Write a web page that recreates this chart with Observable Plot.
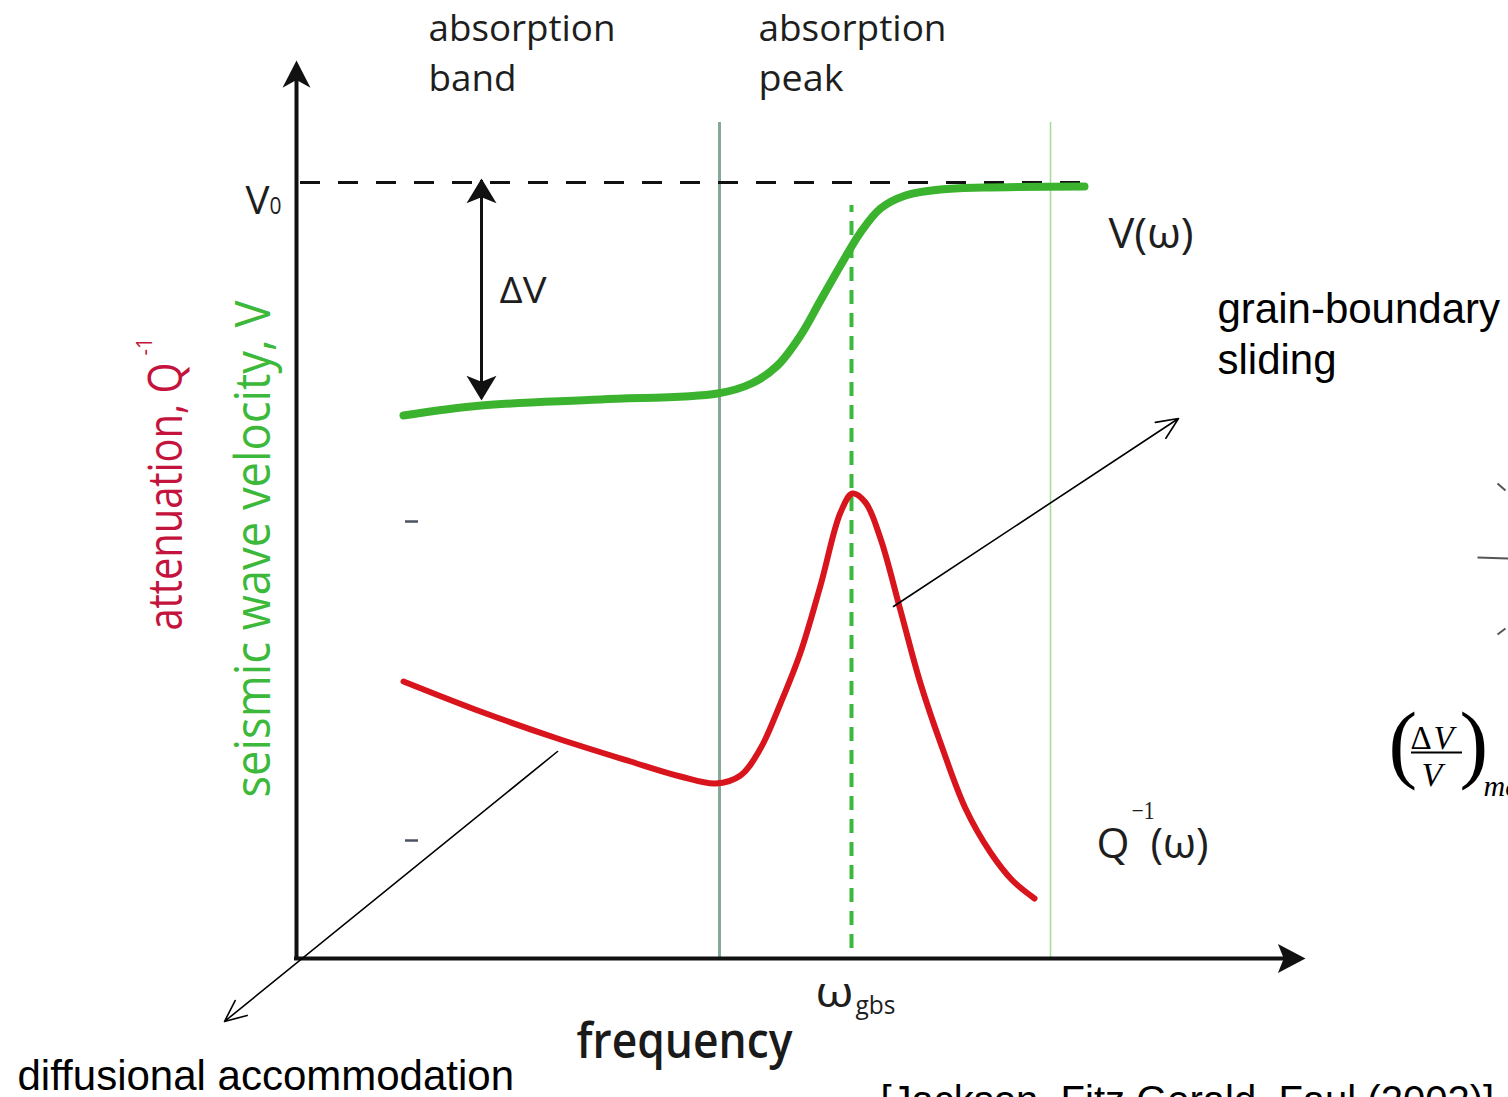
<!DOCTYPE html>
<html><head><meta charset="utf-8">
<script src="https://cdn.jsdelivr.net/npm/d3@7"></script>
<script src="https://cdn.jsdelivr.net/npm/@observablehq/plot@0.6"></script>
<style>html,body{margin:0;padding:0;background:#fff;overflow:hidden;} svg{display:block;}</style>
</head><body><div id="chart"></div>
<script>
// ---- schematic data (frequency in arbitrary units, origin at the axes corner) ----
const vFreq = [1.07, 1.85, 3.04, 4.21, 4.55, 4.81, 5.04, 5.24, 5.44, 5.64, 5.84, 6.09, 6.44, 6.87, 7.88];
const vVel  = [5.43, 5.53, 5.59, 5.65, 5.75, 5.93, 6.23, 6.58, 6.93, 7.26, 7.50, 7.63, 7.69, 7.71, 7.72];
const qFreq = [1.07, 1.84, 2.61, 3.34, 3.84, 4.19, 4.44, 4.64, 4.84, 5.04, 5.24, 5.44, 5.56, 5.69, 5.84, 6.04, 6.24, 6.46, 6.69, 6.94, 7.16, 7.38];
const qAtt  = [2.77, 2.47, 2.20, 1.97, 1.82, 1.75, 1.83, 2.10, 2.55, 3.06, 3.73, 4.46, 4.65, 4.56, 4.20, 3.48, 2.75, 2.10, 1.50, 1.06, 0.78, 0.60];
const V0 = 7.76;            // unrelaxed velocity level
const omegaGbs = 5.55;      // peak frequency
const bandEdge = 4.23;      // end of absorption band
const peakEdge = 7.54;      // end of absorption peak region
const regionTop = 8.36;
const vLow = 5.58;          // relaxed velocity at dV arrow
const dVfreq = 1.85;
const xAxisEnd = 10.09, yAxisEnd = 8.98;
const tickValues = [4.37, 1.18];
const pointers = [
  {x1: 5.97, y1: 3.52, x2: 8.82, y2: 5.40},   // grain-boundary sliding
  {x1: 2.61, y1: 2.07, x2: -0.72, y2: -0.63}  // diffusional accommodation
];
const edgeStrokes = [
  {x1: 11.81, y1: 4.01, x2: 12.12, y2: 4.00},
  {x1: 12.01, y1: 4.75, x2: 12.09, y2: 4.68},
  {x1: 12.01, y1: 3.24, x2: 12.09, y2: 3.30}
];

const vData = vFreq.map((f, i) => ({f, v: vVel[i]}));
const qData = qFreq.map((f, i) => ({f, q: qAtt[i]}));

// filled stealth-style arrowheads as custom dot symbols (tip at the anchor point)
function head(dir, len, notch) {
  return {draw(ctx, size) {
    const r = Math.sqrt(size / Math.PI), L = len * r, N = notch * r;
    let p;
    if (dir === "up") p = [[0,0],[-r,L],[0,N],[r,L]];
    else if (dir === "down") p = [[0,0],[-r,-L],[0,-N],[r,-L]];
    else p = [[0,0],[-L,-r],[-N,0],[-L,r]];
    ctx.moveTo(p[0][0], p[0][1]);
    for (let i = 1; i < p.length; ++i) ctx.lineTo(p[i][0], p[i][1]);
    ctx.closePath();
  }};
}

const MY = "Open Sans, Noto Sans, sans-serif";
const AR = "Liberation Sans, Arial, sans-serif";
const TM = "Liberation Serif, Times New Roman, serif";
const labels = [
  {t: "absorption", x: 1.32, y: 9.18, size: 36, font: MY, fill: "#1e1e1e", weight: 500, len: 187},
  {t: "band", x: 1.32, y: 8.68, size: 36, font: MY, fill: "#1e1e1e", weight: 500, len: 88},
  {t: "absorption", x: 4.62, y: 9.18, size: 36, font: MY, fill: "#1e1e1e", weight: 500, len: 188},
  {t: "peak", x: 4.62, y: 8.68, size: 36, font: MY, fill: "#1e1e1e", weight: 500, len: 85},
  {t: "V", x: -0.51, y: 7.45, size: 38, font: MY, fill: "#1e1e1e", weight: 500, len: 24},
  {t: "0", x: -0.27, y: 7.45, size: 23, font: MY, fill: "#1e1e1e", weight: 500, len: 12},
  {t: "ΔV", x: 2.03, y: 6.56, size: 37, font: MY, fill: "#1e1e1e", weight: 500, len: 47},
  {t: "V(ω)", x: 8.12, y: 7.11, size: 42, font: MY, fill: "#1e1e1e", weight: 500, len: 85},
  {t: "Q", x: 8.00, y: 1.01, size: 42, font: MY, fill: "#1e1e1e", weight: 500, len: 33},
  {t: "−1", x: 8.35, y: 1.40, size: 25, font: TM, fill: "#1e1e1e", len: 23},
  {t: "(ω)", x: 8.54, y: 1.01, size: 42, font: MY, fill: "#1e1e1e", weight: 500, len: 58},
  {t: "ω", x: 5.19, y: -0.48, size: 42, font: MY, fill: "#1e1e1e", weight: 500, len: 38},
  {t: "gbs", x: 5.59, y: -0.55, size: 26, font: MY, fill: "#1e1e1e", weight: 500, len: 40},
  {t: "frequency", x: 2.80, y: -0.99, size: 48, font: MY, fill: "#1a1a1a", weight: 600, len: 216},
  {t: "grain-boundary", x: 9.21, y: 6.36, size: 42, font: AR, fill: "#000"},
  {t: "sliding", x: 9.21, y: 5.85, size: 42, font: AR, fill: "#000"},
  {t: "diffusional accommodation", x: -2.79, y: -1.31, size: 42, font: AR, fill: "#000"},
  {t: "[Jackson, Fitz Gerald, Faul (2002)]", x: 5.84, y: -1.55, size: 40, font: AR, fill: "#000"},
  {t: "seismic wave velocity, V", x: -0.27, y: 1.61, size: 49, font: MY, fill: "#3cb93a", rotate: -90, len: 497},
  {t: "attenuation, Q", x: -1.15, y: 3.28, size: 48, font: MY, fill: "#c4143e", rotate: -90, len: 268},
  {t: "-1", x: -1.45, y: 6.03, size: 22, font: MY, fill: "#c4143e", rotate: -90, len: 18},
  {t: "(", x: 10.92, y: 1.87, size: 86, font: TM, fill: "#000"},
  {t: "Δ", x: 11.14, y: 2.10, size: 33, font: TM, fill: "#000"},
  {t: "V", x: 11.37, y: 2.10, size: 33, font: TM, fill: "#000", style: "italic"},
  {t: "V", x: 11.25, y: 1.73, size: 34, font: TM, fill: "#000", style: "italic"},
  {t: ")", x: 11.63, y: 1.87, size: 86, font: TM, fill: "#000"},
  {t: "max", x: 11.87, y: 1.63, size: 30, font: TM, fill: "#000", style: "italic"}
];

const ink = "#111";
const marks = [
  Plot.ruleX([bandEdge], {y1: 0, y2: regionTop, stroke: "#86a996", strokeWidth: 3}),
  Plot.ruleX([peakEdge], {y1: 0, y2: regionTop, stroke: "#a6da96", strokeWidth: 1.5}),
  Plot.ruleY([V0], {x1: 0.04, x2: 7.89, stroke: ink, strokeWidth: 3.2, strokeDasharray: "20,18"}),
  Plot.ruleX([omegaGbs], {y1: 0.1, y2: 7.53, stroke: "#3cb83c", strokeWidth: 4, strokeDasharray: "14,9"}),
  Plot.line(vData, {x: "f", y: "v", curve: "catmull-rom", stroke: "#3bb32e", strokeWidth: 8}),
  Plot.line(qData, {x: "f", y: "q", curve: "catmull-rom", stroke: "#d8141c", strokeWidth: 6}),
  Plot.ruleX([0], {y1: -0.02, y2: yAxisEnd - 0.2, stroke: ink, strokeWidth: 4}),
  Plot.ruleY([0], {x1: -0.02, x2: xAxisEnd - 0.2, stroke: ink, strokeWidth: 4}),
  Plot.dot([[0, yAxisEnd]], {x: d => d[0], y: d => d[1], r: 14, symbol: head("up", 1.95, 1.4), fill: ink, stroke: "none"}),
  Plot.dot([[xAxisEnd, 0]], {x: d => d[0], y: d => d[1], r: 14.5, symbol: head("right", 1.9, 1.5), fill: ink, stroke: "none"}),
  Plot.ruleX([dVfreq], {y1: vLow + 0.15, y2: V0 + 0.02, stroke: ink, strokeWidth: 3}),
  Plot.dot([[dVfreq, V0 + 0.04]], {x: d => d[0], y: d => d[1], r: 15, symbol: head("up", 1.65, 1.25), fill: ink, stroke: "none"}),
  Plot.dot([[dVfreq, vLow]], {x: d => d[0], y: d => d[1], r: 15, symbol: head("down", 1.65, 1.25), fill: ink, stroke: "none"}),
  Plot.ruleY(tickValues, {x1: 1.09, x2: 1.22, stroke: "#4b5263", strokeWidth: 2.5}),
  Plot.arrow(pointers, {x1: "x1", y1: "y1", x2: "x2", y2: "y2", stroke: "#000", strokeWidth: 1.6, headLength: 22, headAngle: 48}),
  Plot.link(edgeStrokes, {x1: "x1", y1: "y1", x2: "x2", y2: "y2", stroke: "#555", strokeWidth: 2}),
  Plot.ruleY([2.06], {x1: 11.15, x2: 11.66, stroke: "#000", strokeWidth: 1.8})
];
for (const l of labels) {
  marks.push(Plot.text([l], {
    x: "x", y: "y", text: "t", textAnchor: "start", lineAnchor: "bottom",
    fontSize: l.size, fontFamily: l.font, fill: l.fill,
    fontWeight: l.weight || "normal", fontStyle: l.style || "normal",
    rotate: l.rotate || 0
  }));
}

const chart = Plot.plot({
  width: 1508, height: 1097, margin: 0,
  x: {domain: [-2.96, 12.12], axis: null},
  y: {domain: [-1.39, 9.58], axis: null},
  style: {background: "#fff", overflow: "hidden"},
  marks
});
const texts = chart.querySelectorAll('g[aria-label="text"] text');
texts.forEach((el, i) => {
  const l = labels[i];
  if (l && l.len) { el.setAttribute("textLength", l.len); el.setAttribute("lengthAdjust", "spacingAndGlyphs"); }
});
document.getElementById("chart").appendChild(chart);
</script></body></html>
